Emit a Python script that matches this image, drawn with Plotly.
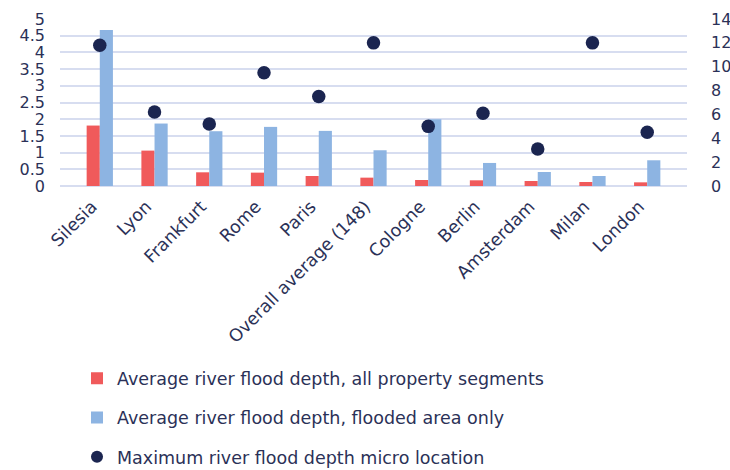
import plotly.graph_objects as go

cities = ["Silesia", "Lyon", "Frankfurt", "Rome", "Paris", "Overall average (148)",
          "Cologne", "Berlin", "Amsterdam", "Milan", "London"]
avg_all_segments = [1.81, 1.06, 0.41, 0.40, 0.30, 0.25, 0.18, 0.17, 0.15, 0.12, 0.11]
avg_flooded_only = [4.67, 1.87, 1.64, 1.77, 1.65, 1.07, 2.00, 0.69, 0.42, 0.30, 0.77]
max_micro_location = [11.8, 6.2, 5.2, 9.5, 7.5, 12.0, 5.0, 6.1, 3.1, 12.0, 4.5]

TEXT = "#2B3157"
GRID = "#D7DDF0"
FONT = "DejaVu Sans"

fig = go.Figure()
fig.add_trace(go.Bar(x=cities, y=avg_all_segments, name="Average river flood depth, all property segments",
                     marker=dict(color="#F05A5B", line=dict(width=0)), legendgroup="a"))
fig.add_trace(go.Bar(x=cities, y=avg_flooded_only, name="Average river flood depth, flooded area only",
                     marker=dict(color="#8DB4E2", line=dict(width=0)), legendgroup="b"))
fig.add_trace(go.Scatter(x=cities, y=max_micro_location, name="Maximum river flood depth micro location",
                         mode="markers", yaxis="y2", legendgroup="c",
                         marker=dict(color="#1B2550", size=13.5)))

fig.update_layout(
    width=730, height=470,
    margin=dict(l=60, r=43, t=19, b=284),
    paper_bgcolor="white", plot_bgcolor="white",
    font=dict(family=FONT, color=TEXT, size=16),
    barmode="group", bargap=0.52, bargroupgap=0,
    showlegend=True,
    legend=dict(orientation="v", x=(77 - 60) / 627, xref="paper", xanchor="left",
                y=0.233, yref="container", yanchor="top",
                font=dict(size=17.5, color=TEXT), tracegroupgap=13.5, itemwidth=30,
                itemsizing="constant", bgcolor="rgba(0,0,0,0)"),
    xaxis=dict(tickangle=-45, showgrid=False, showline=False, ticks="", automargin=False,
               ticklabelstandoff=6, ticklabelshift=-8, tickfont=dict(size=17.5, color=TEXT)),
    yaxis=dict(range=[0, 5], dtick=0.5, showgrid=True, gridcolor=GRID, gridwidth=2,
               zeroline=True, zerolinecolor=GRID, zerolinewidth=2, showline=False, automargin=False,
               ticks="", ticklabelstandoff=14, tickfont=dict(size=16, color=TEXT)),
    yaxis2=dict(range=[0, 14], dtick=2, overlaying="y", side="right", showgrid=False,
                zeroline=False, showline=False, ticks="", ticklabelstandoff=23, automargin=False,
                tickfont=dict(size=16, color=TEXT)),
)

fig.write_html("out.html")
